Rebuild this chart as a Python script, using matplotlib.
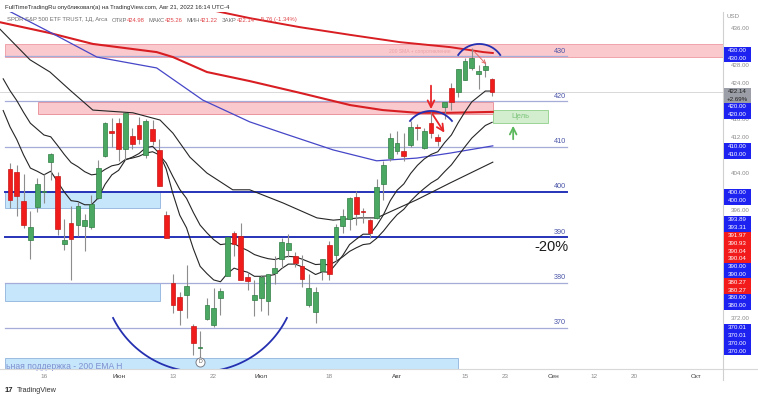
import numpy as np
import matplotlib.pyplot as plt
from matplotlib.patches import Rectangle
from matplotlib.transforms import Bbox

plt.rcParams['font.family'] = ['Liberation Sans', 'DejaVu Sans']

# SPY daily bars, index 0 = May 9 2022 ... index 71 = Aug 19 2022
opens = [405.10, 404.49, 398.07, 389.37, 396.71, 399.98, 406.53, 403.50, 388.62, 393.25,
         392.83, 392.56, 392.31, 398.67, 407.91, 413.55, 415.17, 409.42, 412.40, 414.78,
         408.10, 413.93, 409.34, 394.88, 379.85, 376.85, 377.36, 370.51, 365.51, 371.89,
         370.62, 376.64, 381.40, 391.05, 390.23, 381.23, 376.24, 376.56, 375.88, 382.11,
         385.12, 387.27, 385.85, 383.65, 375.10, 373.61, 382.55, 388.38, 386.08, 392.47,
         394.16, 398.92, 395.75, 393.84, 394.36, 401.89, 407.58, 409.15, 409.12, 410.30,
         414.37, 409.66, 415.25, 412.22, 418.78, 422.99, 422.03, 424.77, 427.41, 425.99,
         426.86, 424.98]
highs = [406.41, 406.08, 404.04, 395.80, 403.18, 403.97, 408.57, 404.52, 394.14, 397.03,
         397.73, 395.15, 399.45, 407.04, 415.38, 416.46, 416.24, 417.44, 414.04, 416.61,
         416.22, 415.82, 411.74, 395.78, 381.81, 377.94, 383.90, 370.94, 369.38, 376.53,
         378.72, 378.83, 390.09, 391.36, 393.16, 382.27, 380.66, 381.70, 381.98, 385.87,
         389.83, 390.64, 386.87, 386.16, 381.92, 379.05, 385.25, 389.09, 392.87, 396.26,
         398.84, 400.18, 396.47, 394.06, 402.88, 406.80, 413.03, 413.41, 413.00, 415.68,
         415.09, 414.15, 417.62, 412.75, 419.20, 424.10, 427.21, 429.50, 431.73, 428.03,
         428.61, 425.26]
lows = [396.50, 394.82, 391.96, 385.15, 395.61, 397.60, 402.58, 390.56, 387.11, 380.54,
        390.38, 386.96, 391.89, 398.45, 407.70, 410.03, 406.93, 407.04, 409.51, 410.55,
        407.61, 410.38, 401.44, 389.75, 373.30, 370.59, 372.12, 364.08, 362.17, 371.81,
        370.18, 372.89, 381.37, 385.97, 380.53, 378.42, 372.56, 373.80, 372.90, 379.60,
        383.27, 385.66, 383.50, 378.99, 374.66, 371.04, 380.54, 380.66, 384.40, 391.03,
        391.63, 392.75, 393.21, 389.95, 394.05, 398.15, 406.77, 408.40, 406.82, 410.00,
        411.52, 409.60, 411.83, 410.22, 416.22, 418.21, 421.03, 424.72, 426.88, 422.81,
        425.50, 421.22]
closes = [398.17, 399.09, 392.75, 392.34, 401.72, 400.09, 408.32, 391.86, 389.46, 389.63,
          396.92, 393.89, 397.37, 405.31, 415.26, 412.93, 409.59, 417.39, 410.54, 411.79,
          415.74, 411.22, 401.44, 389.80, 375.00, 373.87, 379.20, 366.65, 365.86, 375.07,
          374.39, 378.06, 390.08, 388.59, 380.65, 380.34, 377.25, 381.24, 381.96, 383.25,
          388.99, 388.67, 384.23, 380.83, 378.83, 377.91, 385.13, 381.95, 392.27, 394.77,
          398.79, 395.09, 395.57, 390.89, 401.04, 406.07, 411.99, 410.77, 408.06, 414.45,
          414.17, 413.47, 412.99, 411.35, 419.99, 419.99, 427.10, 428.86, 429.70, 426.65,
          427.89, 422.14]

# moving averages (x = bar index)
ma_fast_x = list(range(-1, 72))
ma_fast = [418.0, 414.4, 411.6, 408.2, 405.3, 404.6, 403.8, 404.6, 402.3, 400.0, 398.1,
           397.9, 397.2, 397.2, 398.7, 401.7, 403.8, 404.8, 407.1, 407.7, 408.5, 409.8,
           410.1, 408.5, 405.1, 399.6, 394.9, 392.1, 387.5, 383.6, 382.0, 380.6, 380.2,
           382.0, 383.2, 382.7, 382.3, 381.4, 381.4, 381.5, 381.8, 383.1, 384.1, 384.1,
           383.5, 382.7, 381.8, 382.4, 382.3, 384.1, 386.0, 388.4, 389.6, 390.7, 390.7,
           392.6, 395.0, 398.1, 400.4, 401.8, 404.1, 405.9, 407.3, 408.3, 408.9, 410.9,
           412.6, 415.3, 417.7, 419.9, 421.1, 422.3, 422.3]
ma_mid_x = list(range(-1, 72))
ma_mid = [425.0, 422.4, 420.2, 417.6, 415.2, 413.9, 412.6, 412.2, 410.3, 408.3, 406.5,
          405.6, 404.5, 403.8, 404.0, 405.0, 405.8, 406.1, 407.2, 407.5, 407.9, 408.6,
          408.9, 408.2, 406.4, 403.4, 400.6, 398.6, 395.5, 392.7, 391.0, 389.5, 388.4,
          388.6, 388.6, 387.8, 387.1, 386.2, 385.7, 385.3, 385.1, 385.5, 385.8, 385.7,
          385.2, 384.6, 384.0, 384.1, 383.9, 384.7, 385.7, 386.9, 387.7, 388.4, 388.6,
          389.8, 391.4, 393.3, 395.0, 396.2, 398.0, 399.5, 400.8, 402.0, 402.9, 404.5,
          406.0, 408.0, 410.0, 411.9, 413.3, 414.7, 415.4]
ma_slow_x = [-1.5, 2.95, 5.89, 8.84, 12.2, 18.1, 22.1, 24.0, 26.5, 29.0, 32.8, 35.3,
             40.2, 45.2, 47.6, 51.5, 54.0, 59.9, 64.8, 71.1]
ma_slow = [436.0, 429.2, 426.5, 422.5, 418.1, 417.5, 415.9, 413.0, 407.7, 404.2, 400.5,
           400.5, 397.6, 394.3, 393.8, 394.3, 394.3, 398.3, 402.0, 406.6]
ma_blue_x = [-1.5, 5.89, 12.8, 21.6, 28.4, 35.3, 40.2, 47.6, 54.0, 59.9, 64.8, 71.1]
ma_blue = [441.0, 435.3, 429.8, 427.4, 420.3, 415.5, 413.0, 409.3, 406.9, 407.5, 408.6, 410.2]
ma_red_x = [-1.5, 5.89, 12.2, 21.6, 24.0, 29.0, 35.3, 42.7, 50.1, 54.9, 59.9, 64.8, 71.1]
ma_red = [437.5, 435.1, 432.7, 430.9, 429.8, 426.5, 424.5, 421.9, 419.2, 418.1, 417.5,
          417.5, 417.7]
ma_red2_x = [28.0, 30.2, 35.3, 42.7, 50.1, 57.4, 64.8, 69.7, 71.1]
ma_red2 = [440.8, 440.0, 438.4, 436.4, 434.7, 433.1, 432.0, 430.9, 430.7]

levels = [430, 420, 410, 400, 390, 380, 370]
thick_levels = [400, 390]
last_price = 422.14

tick_pos = [5, 16, 24, 30, 37, 47, 57, 67, 73, 80, 86, 92, 101]
tick_text = ['16', 'Июн', '13', '22', 'Июл', '18', 'Авг', '15', '23', 'Сен', '12', '20', 'Окт']
months = ['Июн', 'Июл', 'Авг', 'Сен', 'Окт']
price_ticks = list(range(364, 437, 4))

axis_tags = [
    [('430.00', 'b'), ('430.00', 'b')],
    [('422.14', 'g'), ('+2.69%', 'g')],
    [('420.00', 'b'), ('420.00', 'b')],
    [('410.00', 'b'), ('410.00', 'b')],
    [('400.00', 'b'), ('400.00', 'b')],
    [('393.89', 'b'), ('393.31', 'b'), ('391.97', 'r'), ('390.93', 'r'), ('390.04', 'r'),
     ('390.04', 'r'), ('390.00', 'b'), ('390.00', 'b'), ('380.27', 'r'), ('380.27', 'r'),
     ('380.00', 'b'), ('380.00', 'b')],
    [('370.01', 'b'), ('370.01', 'b'), ('370.00', 'b'), ('370.00', 'b')],
]
tag_tops = [46.5, 88, 103, 143, 189, 216, 324]
tag_colors = {'b': '#1d22f0', 'r': '#f21a1a', 'g': '#9b9ea6'}

W, H = 758, 398
fig = plt.figure(figsize=(W / 100, H / 100), dpi=100)
fig.patch.set_facecolor('white')
ax = fig.add_axes([0, (H - 369) / H, 723 / W, 357 / H])
ax.set_xlim(-1.47, 105.0)
ax.set_ylim(360.94, 439.75)
ax.axis('off')

# zones
ax.add_patch(Rectangle((-0.75, 429.8), 106, 2.9, fc='#f9c9cd', ec='#ee9aa2', lw=0.6, zorder=1))
ax.add_patch(Rectangle((4.1, 417.3), 67.0, 2.6, fc='#f9c9cd', ec='#e88a94', lw=0.6, zorder=1))
ax.add_patch(Rectangle((-0.75, 396.4), 22.85, 3.6, fc='#c6e6fb', ec='#8fb3dc', lw=0.6, zorder=1))
ax.add_patch(Rectangle((-0.75, 376.0), 22.85, 4.0, fc='#c6e6fb', ec='#8fb3dc', lw=0.6, zorder=1))
ax.add_patch(Rectangle((-0.75, 358.0), 66.75, 5.4, fc='#c6e6fb', ec='#8fb3dc', lw=0.6, zorder=1))
ax.add_patch(Rectangle((71.1, 415.3), 8.1, 2.8, fc='#d3edcf', ec='#8fcf8a', lw=0.6, zorder=1))
ax.text(75.15, 416.7, 'Цель', color='#7cc47a', fontsize=5.5, ha='center', va='center', zorder=2)
ax.text(60.4, 431.0, '200 SMA + сопротивление', color='#eba3a8', fontsize=3.6,
        ha='center', va='center', zorder=2)
ax.text(-0.6, 361.6, 'ьная поддержка - 200 EMA H', color='#7f8fd0', fontsize=6.2,
        ha='left', va='center', zorder=2)

# horizontal levels
for lv in levels:
    thick = lv in thick_levels
    ax.plot([-0.75, 82.0], [lv, lv], color='#2633b8' if thick else '#a6acd8',
            lw=1.4 if thick else 0.9, zorder=2)
    ax.text(81.0, lv + 0.35, str(lv), color='#4a55a8', fontsize=5.2,
            ha='center', va='bottom', zorder=2)
ax.axhline(last_price, color='#d2d2d2', lw=0.6, zorder=1.5)

# moving averages
ax.plot(ma_red_x, ma_red, color='#d81e22', lw=1.5, zorder=2.5)
ax.plot(ma_red2_x, ma_red2, color='#d81e22', lw=1.4, zorder=2.5)
ax.plot(ma_blue_x, ma_blue, color='#4646c8', lw=0.9, zorder=2.5)
ax.plot(ma_slow_x, ma_slow, color='#262626', lw=0.8, zorder=2.5)
ax.plot(ma_mid_x, ma_mid, color='#262626', lw=0.8, zorder=2.5)
ax.plot(ma_fast_x, ma_fast, color='#262626', lw=0.8, zorder=2.5)

# candles
x = np.arange(len(closes))
o = np.array(opens)
c = np.array(closes)
up = c >= o
ax.vlines(x, lows, highs, colors='#8d8d8d', lw=0.8, zorder=3)
body = np.maximum(np.abs(c - o), 0.15)
ax.bar(x, body, bottom=np.minimum(o, c), width=0.7,
       color=np.where(up, '#4aa862', '#f01c1c'),
       edgecolor=np.where(up, '#2f7d43', '#c81818'), linewidth=0.5, zorder=4)


def arc(cx, cy, rx, ry, t1, t2):
    t = np.radians(np.linspace(t1, t2, 80))
    ax.plot(cx + rx * np.cos(t), cy + ry * np.sin(t), color='#2430b0', lw=1.3, zorder=5)


arc(27.98, 381.8, 14.3, 21.5, 206.5, 333.5)
arc(69.1, 427.06, 3.76, 5.63, 34.6, 145.4)
arc(62.0, 411.93, 3.98, 5.97, 39.1, 140.9)

red_arrow = dict(arrowstyle='->', color='#e8262a', lw=1.3, mutation_scale=12)
ax.annotate('', xy=(62.0, 417.7), xytext=(62.0, 424.1), arrowprops=red_arrow, zorder=5)
ax.annotate('', xy=(64.2, 412.6), xytext=(62.0, 417.7), arrowprops=red_arrow, zorder=5)
ax.annotate('', xy=(70.4, 427.8), xytext=(68.0, 431.6),
            arrowprops=dict(arrowstyle='->', color='#e06a6a', lw=0.7, mutation_scale=6), zorder=5)
ax.annotate('', xy=(74.1, 415.25), xytext=(74.1, 411.05),
            arrowprops=dict(arrowstyle='->', color='#5cb85c', lw=1.3, mutation_scale=12), zorder=5)

ax.text(79.8, 387.9, '-20%', fontsize=10.5, color='#1a1a1a', ha='center', va='center', zorder=5)

# dividend marker
ax.plot([28], [362.5], 'o', ms=6.5, mfc='white', mec='#7b7e88', mew=0.7, zorder=6)
ax.text(28, 362.5, 'D', fontsize=3.8, color='#555', ha='center', va='center', zorder=7)

# time axis labels
for p, s in zip(tick_pos, tick_text):
    ax.text(p, -0.02, s, transform=ax.get_xaxis_transform(), fontsize=4.6,
            color='#3a3a3a' if s in months else '#8a8a8a', ha='center', va='center', clip_on=False)

# frame lines
fig.add_artist(plt.Line2D([0, 1], [(H - 369) / H] * 2, color='#d8d8d8', lw=0.8))
fig.add_artist(plt.Line2D([723 / W] * 2, [(H - 380) / H, (H - 12) / H], color='#d0d0d0', lw=0.8))

# price axis: tags stacked on the right, plain ticks only where they peek out
ymin, ymax = ax.get_ylim()


def p2px(p):
    return 12 + (ymax - p) / (ymax - ymin) * 357


row_h = 7.8
spans = []
for top, group in zip(tag_tops, axis_tags):
    spans.append((top, top + row_h * len(group)))
    for k, (s, col) in enumerate(group):
        y0 = top + k * row_h
        fig.add_artist(Rectangle((724 / W, 1 - (y0 + row_h) / H), 27 / W, row_h / H,
                                 transform=fig.transFigure, fc=tag_colors[col], ec='none', zorder=3))
        fig.text(737.5 / W, 1 - (y0 + row_h / 2) / H, s, fontsize=4.4,
                 color='#1d1d1d' if col == 'g' else 'white', ha='center', va='center', zorder=4)

for p in price_ticks:
    yp = p2px(p)
    if any(a <= yp <= b for a, b in spans):
        continue
    above = max([b for a, b in spans if b < yp], default=0)
    below = min([a for a, b in spans if a > yp], default=H)
    t = fig.text(740 / W, 1 - yp / H, f'{p:.2f}', fontsize=4.4, color='#8a8a8a',
                 ha='center', va='center', zorder=1)
    t.set_clip_box(Bbox.from_extents(0, H - below, W, H - above))
    t.set_clip_on(True)
fig.text(733 / W, 1 - 17 / H, 'USD', fontsize=4.4, color='#8a8a8a', ha='center', va='center')

# header
fig.text(5 / W, 1 - 7 / H, 'FullTimeTradingRu опубликовал(а) на TradingView.com, Авг 21, 2022 16:14 UTC-4',
         fontsize=4.3, color='#2a2a2a', ha='left', va='center')
renderer = fig.canvas.get_renderer()
hx = 7
parts = [('SPDR S&P 500 ETF TRUST, 1Д, Arca', '#6d6d6d', 4), ('ОТКР', '#6d6d6d', 0),
         ('424.98', '#e0454a', 4), ('МАКС', '#6d6d6d', 0), ('425.26', '#e0454a', 4),
         ('МИН', '#6d6d6d', 0), ('421.22', '#e0454a', 4), ('ЗАКР', '#6d6d6d', 0),
         ('422.14', '#e0454a', 4), ('-5.76 (-1.34%)', '#e0454a', 0)]
for s, col, gap in parts:
    t = fig.text(hx / W, 1 - 20 / H, s, fontsize=4.2, color=col, ha='left', va='center')
    hx += t.get_window_extent(renderer=renderer).width + gap

fig.text(5 / W, 1 - 390 / H, '17', fontsize=5.5, color='#222', weight='bold', ha='left', va='center')
fig.text(17 / W, 1 - 390 / H, 'TradingView', fontsize=5.2, color='#333', ha='left', va='center')

fig.savefig('out.png', dpi=100)
